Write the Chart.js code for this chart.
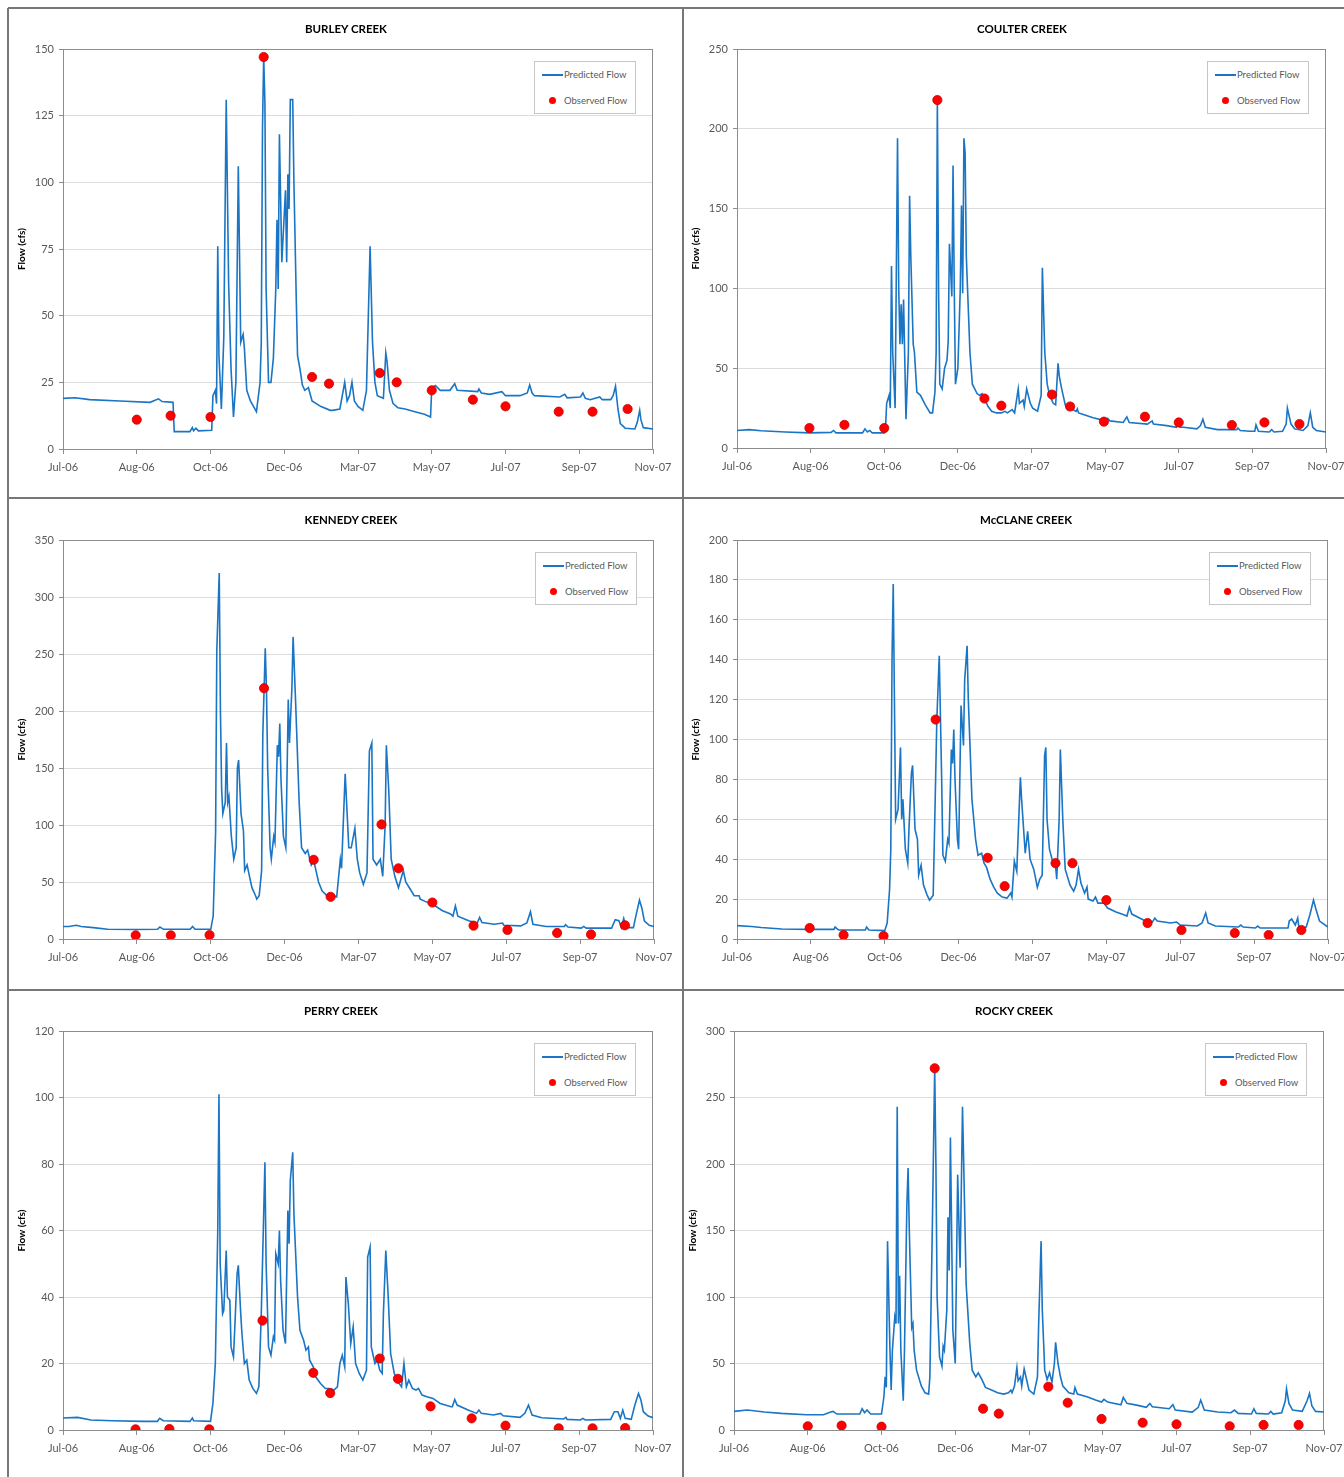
<!DOCTYPE html>
<html>
<head>
<meta charset="utf-8">
<title>Predicted and observed flow</title>
<script src="https://cdn.jsdelivr.net/npm/chart.js@4.4.0/dist/chart.umd.min.js"></script>
<style>
  body { margin: 0; width: 1344px; height: 1477px; overflow: hidden; background: #fff; position: relative; font-family: Lato, 'Liberation Sans', sans-serif; }
  .hl { position: absolute; left: 8px; right: 0; height: 2px; background: #777; }
  .vl { position: absolute; top: 8px; bottom: 0; width: 2px; background: #777; }
  .panel { position: absolute; }
  .panel canvas { position: absolute; left: 0; top: 0; }
  .ttl { position: absolute; transform: translate(-50%, -50%); font-size: 11.5px; font-weight: bold; color: #000; white-space: nowrap; }
  .lgd { position: absolute; box-sizing: border-box; width: 102px; height: 53px; border: 1px solid #c6c6c6; background: #fff; font-size: 9.5px; color: #595959; }
  .lgd .ln { position: absolute; left: 7px; top: 12px; width: 21px; height: 2px; background: #1a75c4; }
  .lgd .dot { position: absolute; left: 14px; top: 35px; width: 7px; height: 7px; border-radius: 50%; background: #ff0000; }
  .lgd span { position: absolute; left: 29px; line-height: 12px; }
</style>
</head>
<body>
<div class="hl" style="top:7px"></div>
<div class="hl" style="top:497px"></div>
<div class="hl" style="top:989px"></div>
<div class="vl" style="left:7px"></div>
<div class="vl" style="left:682px"></div>

<script>
// day 0 = 1-Jul-2006, axis ends 1-Nov-2007 (day 488), Excel major unit 61 days
const tickDays = [0, 61, 122, 183, 244, 305, 366, 427, 488];
const tickLabels = ['Jul-06', 'Aug-06', 'Oct-06', 'Dec-06', 'Mar-07', 'May-07', 'Jul-07', 'Sep-07', 'Nov-07'];

const creekNames = ['BURLEY CREEK', 'COULTER CREEK', 'KENNEDY CREEK', 'McCLANE CREEK', 'PERRY CREEK', 'ROCKY CREEK'];
const yMaxes = [150, 250, 350, 200, 120, 300];
const ySteps = [25, 50, 50, 20, 20, 50];

// predicted flow, [day, cfs]
const burleyPredicted = [[0,19],[10,19.2],[22,18.5],[47,18],[72,17.5],[79,18.8],[82,17.8],[91,17.5],[92,6.5],[105,6.5],[107,8],[108,6.8],[110,7.8],[112,6.8],[123,7],[124,20],[126,22],[127,17],[128,76],[129,35],[131,15],[133,42],[135,131],[137,62],[139,30],[141,12],[143,25],[145,106],[147,40],[149,43],[150,38],[152,22],[155,18],[160,14],[163,25],[164,40],[165,120],[166,147],[167,130],[168,60],[170,25],[172,25],[174,34],[176,60],[177,86],[178,60],[179,118],[181,70],[184,97],[185,70],[186,103],[187,90],[188,131],[190,131],[191,100],[193,55],[194,35],[196,30],[198,24],[200,22],[203,23],[206,18],[213,16],[221,14.5],[223,14.5],[229,15],[233,25],[235,18],[237,20],[239,25],[241,18],[244,16],[248,14.5],[251,22],[254,76],[256,40],[258,25],[260,20],[265,19],[267,36],[268,33],[270,22],[273,17],[277,15.5],[283,15],[291,14],[299,13],[304,12],[305,23],[308,23.8],[312,22],[320,22],[324,24.5],[326,22],[343,21.5],[344,22.5],[346,21],[353,20.5],[363,21.5],[366,20],[378,20],[384,21],[386,24],[388,21],[390,20],[411,19.5],[415,20.5],[417,19.2],[428,19.5],[430,21],[432,19],[436,18.5],[444,19.5],[446,18.5],[453,18.5],[455,20],[457,23.5],[459,15],[461,9.5],[465,7.8],[473,7.5],[475,10],[477,14.5],[478,11],[480,8],[488,7.5]];
const coulterPredicted = [[0,11],[10,11.5],[20,10.8],[40,10],[60,9.5],[78,9.8],[80,11],[82,9.5],[104,9.5],[106,12],[108,10],[110,11],[112,9.5],[122,9.5],[123,12],[124,28],[126,33],[127,25],[128,114],[129,60],[131,25],[133,194],[134,100],[135,65],[136,90],[137,65],[138,93],[140,18],[142,60],[143,158],[144,120],[146,65],[147,60],[149,35],[152,33],[156,27],[160,22],[162,22],[164,35],[165,60],[166,218],[167,100],[168,40],[170,37],[172,50],[174,55],[175,67],[176,128],[178,95],[179,177],[180,100],[181,40],[183,50],[185,100],[186,152],[187,97],[188,194],[189,185],[190,120],[193,60],[195,40],[199,34],[201,33],[203,34],[205,31],[208,26],[211,23],[215,22],[219,22],[222,23],[224,22],[228,24],[230,22],[233,37],[234,28],[237,30],[238,26],[240,37],[243,28],[245,25],[249,23],[252,33],[253,113],[255,60],[257,40],[259,33],[262,28],[264,27],[266,53],[267,45],[269,37],[272,27],[274,24],[276,25],[281,23],[282,24.5],[283,22],[287,21],[295,19],[303,17.5],[307,18.5],[309,17],[320,16],[323,19.5],[325,16],[340,15],[344,17],[345,15],[356,14],[364,13],[365,16],[367,13],[370,13],[381,12],[384,14],[386,18],[388,13],[398,11.5],[414,11.5],[415,12.5],[417,11],[425,10.5],[429,10.5],[430,14.5],[432,10.5],[441,10],[443,11.5],[445,10],[452,10.5],[455,15],[456,25],[459,15],[462,12],[469,11],[473,14],[475,22],[477,13],[480,11],[488,10]];
const kennedyPredicted = [[0,11],[5,11],[11,12],[15,11],[25,10],[37,8.5],[60,8.3],[78,8.5],[80,10.5],[83,8.5],[105,8.5],[107,11],[109,8.5],[122,8.5],[124,20],[126,93],[127,253],[129,321],[130,200],[131,131],[132,110],[134,120],[135,172],[136,120],[137,125],[139,90],[141,70],[143,80],[144,150],[145,157],[147,110],[149,95],[150,60],[152,65],[154,55],[156,45],[159,38],[160,35],[162,38],[164,60],[165,180],[167,255],[168,220],[169,150],[171,80],[172,70],[174,90],[175,85],[177,170],[178,160],[179,189],[180,140],[182,90],[184,80],[186,210],[187,172],[189,220],[190,265],[192,210],[195,120],[197,80],[200,75],[202,78],[205,65],[207,69],[211,50],[214,42],[219,37],[223,38],[226,37],[229,70],[230,62],[233,145],[236,80],[238,80],[241,97],[243,70],[245,58],[248,48],[251,58],[253,165],[255,172],[256,70],[259,65],[262,70],[264,55],[266,100],[267,170],[269,130],[271,70],[274,55],[277,45],[281,60],[283,50],[286,45],[290,38],[294,38],[295,35],[299,33],[306,30],[313,25],[320,22],[322,20],[324,29],[326,20],[335,16],[342,14],[344,19],[346,14.5],[356,13],[363,14],[364,12],[378,11.5],[383,14],[386,24],[388,13],[399,11],[414,11],[415,12.5],[417,10.5],[428,9.5],[430,11],[432,9.5],[453,9.5],[456,17],[459,16],[461,10],[463,18],[465,10],[471,10],[473,20],[476,34],[478,27],[480,16],[484,12],[488,11]];
const mcclanePredicted = [[0,6.7],[12,6.3],[20,5.8],[37,5],[58,4.8],[80,4.8],[81,6],[84,4.5],[106,4.5],[107,6],[109,4.5],[122,4.2],[124,8],[126,25],[127,45],[128,140],[129,178],[131,60],[133,65],[135,96],[136,60],[137,70],[139,45],[141,38],[142,55],[144,83],[145,87],[147,55],[149,50],[150,32],[152,37],[154,27],[157,22],[159,19.5],[162,22],[164,80],[165,110],[167,142],[169,80],[170,42],[172,39],[174,50],[175,48],[177,95],[178,88],[179,105],[180,80],[182,50],[183,45],[185,117],[187,97],[188,130],[190,147],[191,120],[194,70],[197,50],[199,42],[202,43],[204,38],[206,36],[209,30],[212,26],[215,23],[219,21],[223,20.5],[226,23],[227,21],[229,39],[231,34],[234,81],[235,70],[238,43],[240,54],[242,40],[245,35],[248,26],[250,30],[252,32],[254,92],[255,96],[256,60],[258,45],[261,38],[263,37],[264,30],[266,60],[267,95],[269,60],[271,35],[275,27],[278,24],[280,27],[282,35],[284,28],[287,23],[289,26],[290,20],[294,19],[296,21],[298,18],[303,18],[306,15.5],[313,13.5],[320,12],[322,11.5],[324,16],[326,12.5],[334,10],[339,8.5],[343,8.5],[345,10.5],[347,9],[358,8],[363,8.5],[366,7],[380,6.5],[384,8],[387,13],[389,8],[395,6.5],[414,6],[416,7],[418,6],[428,5.5],[430,6.5],[432,5.5],[455,5.5],[456,9],[458,10],[461,7],[463,10.5],[464,5.5],[470,6],[473,12],[476,19.5],[478,15],[481,9],[488,6]];
const perryPredicted = [[0,3.6],[12,3.8],[23,3],[41,2.8],[66,2.6],[78,2.6],[80,3.5],[83,2.8],[105,2.6],[107,3.6],[108,2.8],[122,2.6],[124,8],[126,20],[128,60],[129,101],[130,50],[132,35],[133,36],[135,54],[136,40],[138,39],[139,25],[141,22],[142,30],[144,47],[145,49.5],[147,35],[148,29],[150,20],[152,21],[154,15],[157,12.5],[160,11],[162,13],[164,35],[166,65],[167,80.5],[168,50],[170,25],[172,22.5],[174,28],[175,27],[176,53],[178,50],[179,60],[180,45],[182,30],[184,26],[186,66],[187,56],[188,75],[190,83.5],[191,65],[194,40],[196,30],[199,27],[201,24],[203,25],[204,21],[207,19],[209,16],[213,14],[217,12.5],[220,12.5],[224,12],[227,13],[229,20],[231,22.5],[233,19],[234,46],[236,38],[238,26],[240,31],[242,20],[245,17],[248,15],[251,18],[252,52],[254,55],[255,25],[258,20],[260,21],[262,18],[264,17],[265,35],[267,54],[269,40],[271,23],[274,17],[278,14],[280,13],[282,20],[284,13],[286,15],[289,12.5],[292,12],[294,12.5],[297,10.5],[301,10],[306,9.5],[312,8],[321,7],[322,7],[324,9.2],[326,7.5],[335,6],[340,5.3],[342,5],[344,6],[346,5],[356,4.5],[362,5],[364,4.3],[378,3.8],[382,5],[385,7.5],[388,4.5],[396,3.7],[414,3.3],[416,3.8],[417,3.2],[428,3],[430,3.5],[432,3],[453,3.2],[456,5.5],[459,5.5],[461,3.5],[463,6],[465,3.5],[470,3.2],[473,7.5],[476,11],[478,9],[480,5.5],[484,4.2],[488,3.7]];
const rockyPredicted = [[0,14],[11,15],[25,13.5],[39,12.5],[60,11.5],[74,11.5],[80,13.5],[82,14],[85,12],[104,12],[106,16],[108,13],[110,15],[113,12],[122,12],[124,25],[125,40],[126,32],[127,142],[129,60],[130,30],[131,60],[133,85],[134,80],[135,243],[136,80],[137,116],[138,60],[140,22],[141,60],[143,170],[144,197],[145,150],[147,77],[148,80],[149,60],[151,45],[155,33],[158,28],[161,27],[162,40],[164,150],[166,272],[167,200],[168,100],[170,55],[172,48],[173,63],[174,60],[176,90],[177,160],[178,120],[179,220],[180,150],[181,75],[183,50],[184,120],[185,192],[187,122],[188,180],[189,243],[190,200],[192,110],[195,65],[197,45],[200,40],[202,43],[205,38],[208,32],[213,30],[218,28],[223,27],[227,28],[229,30],[230,28],[232,33],[234,47],[235,37],[237,40],[238,33],[240,46],[242,38],[244,30],[248,27],[251,40],[252,80],[254,142],[255,90],[257,45],[259,38],[261,43],[263,36],[265,50],[266,66],[268,50],[270,40],[272,33],[277,28],[281,27],[282,32],[284,27],[292,25],[299,22.5],[304,21],[306,23],[309,21],[320,19],[322,24.5],[325,20],[334,18.5],[341,17],[344,20],[346,17.5],[360,16],[363,19],[365,15],[379,13.5],[384,17],[386,22.5],[389,15],[400,13.5],[411,13],[414,15],[417,12.5],[428,12],[430,16],[432,12.5],[442,12],[444,14],[446,12],[453,13],[456,22],[457,31],[459,20],[462,15],[470,14],[474,22],[476,27.5],[478,18],[481,14],[488,13.5]];

// observed flow: sampling days and cfs
const burleyObsDays = [61, 89, 122, 166, 206, 220, 262, 276, 305, 339, 366, 410, 438, 467];
const burleyObserved = [11, 12.5, 12, 147, 27, 24.5, 28.5, 25, 22, 18.5, 16, 14, 14, 15];
const coulterObsDays = [60, 89, 122, 166, 205, 219, 261, 276, 304, 338, 366, 410, 437, 466];
const coulterObserved = [12.5, 14.5, 12.5, 218, 31, 26.5, 33.5, 26, 16.5, 19.6, 16, 14.4, 16, 15];
const kennedyObsDays = [60, 89, 121, 166, 207, 221, 263, 277, 305, 339, 367, 408, 436, 464];
const kennedyObserved = [3.2, 3.2, 3.5, 220, 69.5, 37, 100.5, 62, 32, 11.7, 8, 5.3, 4, 12];
const mcclaneObsDays = [60, 88, 121, 164, 207, 221, 263, 277, 305, 339, 367, 411, 439, 466];
const mcclaneObserved = [5.5, 2, 1.5, 110, 40.7, 26.5, 38, 38, 19.5, 8, 4.5, 3, 2, 4.5];
const perryObsDays = [60, 88, 121, 165, 207, 221, 262, 277, 304, 338, 366, 410, 438, 465];
const perryObserved = [0.2, 0.3, 0.2, 32.9, 17.2, 11.1, 21.5, 15.4, 7.1, 3.5, 1.3, 0.5, 0.5, 0.6];
const rockyObsDays = [61, 89, 122, 166, 206, 219, 260, 276, 304, 338, 366, 410, 438, 467];
const rockyObserved = [2.8, 3.3, 2.5, 272, 16, 12.3, 32.5, 20.5, 8.3, 5.5, 4.3, 2.8, 3.8, 3.8];

const predictedSeries = [burleyPredicted, coulterPredicted, kennedyPredicted, mcclanePredicted, perryPredicted, rockyPredicted];
const obsDaySeries = [burleyObsDays, coulterObsDays, kennedyObsDays, mcclaneObsDays, perryObsDays, rockyObsDays];
const observedSeries = [burleyObserved, coulterObserved, kennedyObserved, mcclaneObserved, perryObserved, rockyObserved];

// plot-area placement on the page (left, top, width, height) and title centre
const layout = [
  { left: 63,  top: 49,   w: 590, h: 400, tx: 346,  ty: 28 },
  { left: 737, top: 49,   w: 589, h: 399, tx: 1022, ty: 28 },
  { left: 63,  top: 540,  w: 591, h: 399, tx: 351,  ty: 519 },
  { left: 737, top: 540,  w: 591, h: 399, tx: 1026, ty: 519 },
  { left: 63,  top: 1031, w: 590, h: 399, tx: 341,  ty: 1010 },
  { left: 734, top: 1031, w: 590, h: 399, tx: 1014, ty: 1010 }
];

const BLUE = '#1a75c4';
const AXIS = '#8c8c8c';
const GRID = '#dcdcdc';
const TICK_FONT = { family: 'Lato, "Liberation Sans", sans-serif', size: 11 };
const PAD_L = 55, PAD_T = 45, PAD_R = 30, PAD_B = 40;

const plotFrame = {
  id: 'plotFrame',
  beforeDatasetsDraw(chart) {
    const a = chart.chartArea, c = chart.ctx;
    c.save();
    c.strokeStyle = AXIS;
    c.lineWidth = 1;
    c.strokeRect(Math.round(a.left) + 0.5, Math.round(a.top) + 0.5, Math.round(a.right - a.left) - 1, Math.round(a.bottom - a.top));
    c.restore();
  }
};

creekNames.forEach((name, i) => {
  const L = layout[i];
  const box = document.createElement('div');
  box.className = 'panel';
  box.style.left = (L.left - PAD_L) + 'px';
  box.style.top = (L.top - PAD_T) + 'px';
  const cw = L.w + PAD_L + PAD_R, ch = L.h + PAD_T + PAD_B;
  box.style.width = cw + 'px';
  box.style.height = ch + 'px';
  const canvas = document.createElement('canvas');
  canvas.width = cw;
  canvas.height = ch;
  canvas.style.width = cw + 'px';
  canvas.style.height = ch + 'px';
  box.appendChild(canvas);

  const lg = document.createElement('div');
  lg.className = 'lgd';
  lg.style.right = (PAD_R + 17) + 'px';
  lg.style.top = (PAD_T + 12) + 'px';
  lg.innerHTML = '<div class="ln"></div><span style="top:7px">Predicted Flow</span>' +
                 '<div class="dot"></div><span style="top:33px">Observed Flow</span>';
  box.appendChild(lg);
  document.body.appendChild(box);

  const ttl = document.createElement('div');
  ttl.className = 'ttl';
  ttl.style.left = L.tx + 'px';
  ttl.style.top = L.ty + 'px';
  ttl.textContent = name;
  document.body.appendChild(ttl);

  const days = obsDaySeries[i], obs = observedSeries[i];

  new Chart(canvas.getContext('2d'), {
    type: 'line',
    data: {
      datasets: [
        {
          label: 'Predicted Flow',
          data: predictedSeries[i].map(p => ({ x: p[0], y: p[1] })),
          borderColor: BLUE,
          borderWidth: 1.6,
          pointRadius: 0,
          tension: 0,
          fill: false,
          order: 1
        },
        {
          label: 'Observed Flow',
          data: days.map((d, k) => ({ x: d, y: obs[k] })),
          showLine: false,
          pointRadius: 4.6,
          pointBackgroundColor: '#ff0000',
          pointBorderColor: '#c80000',
          pointBorderWidth: 0.8,
          order: 0
        }
      ]
    },
    options: {
      responsive: false,
      animation: false,
      devicePixelRatio: 1,
      layout: { padding: { left: 0, top: PAD_T, right: PAD_R, bottom: 0 } },
      plugins: { legend: { display: false }, tooltip: { enabled: false } },
      scales: {
        x: {
          type: 'linear',
          min: 0,
          max: 488,
          afterBuildTicks: s => { s.ticks = tickDays.map(v => ({ value: v })); },
          afterFit: s => { s.height = PAD_B; },
          ticks: {
            autoSkip: false,
            maxRotation: 0,
            padding: 7,
            color: '#595959',
            font: TICK_FONT,
            callback: (v, k) => tickLabels[k]
          },
          grid: { drawOnChartArea: false, tickLength: 5, color: AXIS },
          border: { color: AXIS }
        },
        y: {
          min: 0,
          max: yMaxes[i],
          afterFit: s => { s.width = PAD_L; },
          ticks: { stepSize: ySteps[i], padding: 5, color: '#595959', font: TICK_FONT },
          grid: { color: GRID, tickColor: AXIS, tickLength: 4 },
          border: { color: AXIS },
          title: {
            display: true,
            text: 'Flow (cfs)',
            color: '#000',
            padding: { top: 8, bottom: 0 },
            font: { family: 'Lato, "Liberation Sans", sans-serif', size: 10, weight: 'bold' }
          }
        }
      }
    },
    plugins: [plotFrame]
  });
});
</script>
</body>
</html>
